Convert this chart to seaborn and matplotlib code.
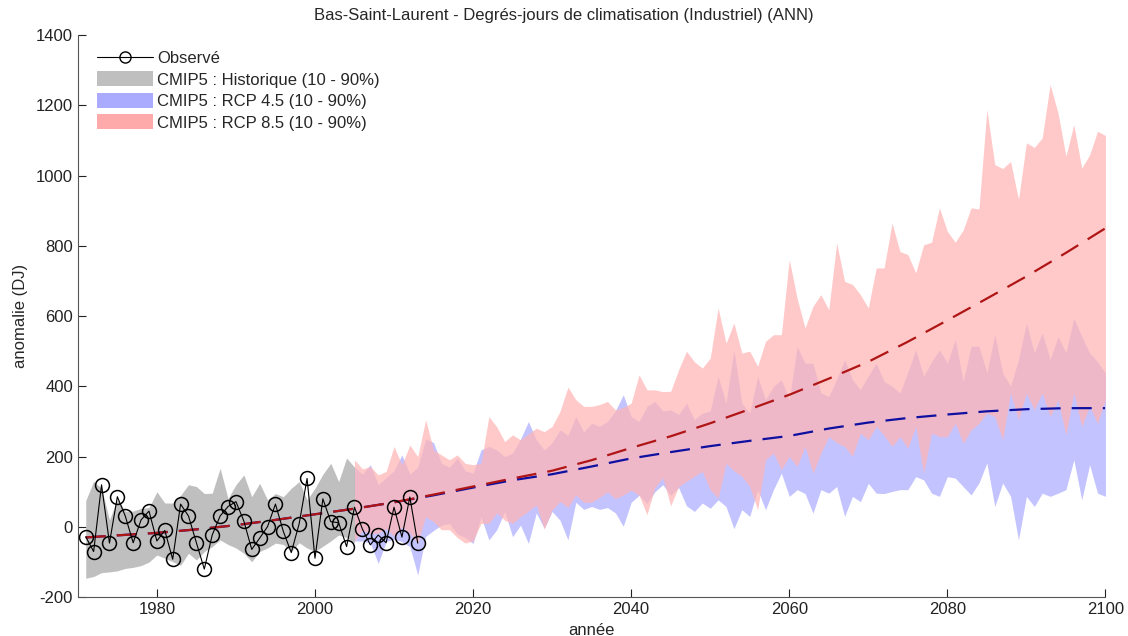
import numpy as np
import pandas as pd
import seaborn as sns
import matplotlib.pyplot as plt
from matplotlib.lines import Line2D
from matplotlib.patches import Patch

# observed anomalies 1971-2013
obs_years = list(range(1971, 2014))
obs_vals = [-28, -70, 120, -46, 86, 31, -45, 20, 45, -40,
            -10, -92, 65, 31, -45, -120, -23, 31, 58, 72,
            17, -64, -32, 1, 65, -13, -73, 9, 138, -89,
            80, 15, 12, -56, 56, -6, -51, -23, -45, 56,
            -29, 85, -46]

# CMIP5 historical 10-90% band 1971-2005
hist_years = list(range(1971, 2006))
hist_hi = [75, 130, 110, 20, 80, 45, 45, 53, 55, 100,
           68, 68, 90, 120, 115, 95, 96, 167, 81, 120,
           148, 86, 124, 77, 95, 86, 110, 129, 77, 110,
           150, 181, 129, 196, 170]
hist_lo = [-146, -141, -130, -128, -125, -118, -115, -110, -100, -80,
           -89, -99, -109, -75, -94, -70, -56, -37, -50, -60,
           -75, -99, -70, -60, -46, -50, -70, -45, -60, -70,
           -55, -40, -23, -30, -45]

# RCP bands 2005-2100
rcp_years = list(range(2005, 2101))
r85_hi = [191, 165, 172, 148, 158, 229, 177, 233, 200, 305,
          219, 205, 191, 205, 181, 177, 181, 314, 285, 243,
          262, 248, 265, 281, 271, 286, 329, 398, 362, 343,
          343, 348, 357, 333, 340, 352, 433, 390, 390, 385,
          386, 447, 500, 470, 452, 480, 623, 523, 580, 495,
          500, 457, 528, 547, 547, 761, 650, 566, 628, 661,
          618, 808, 699, 690, 661, 623, 737, 737, 865, 784,
          775, 723, 803, 810, 908, 841, 810, 845, 908, 905,
          1188, 1031, 1020, 1040, 932, 1093, 1080, 1107, 1259, 1178,
          1055, 1145, 1021, 1059, 1126, 1114]
r85_lo = [-40, -10, -18, -18, -5, -27, 0, -18, -46, 29,
          15, -8, -8, -30, -46, -40, 10, 10, 40, 19,
          10, 29, 45, 63, -6, 48, 72, 55, 91, 70,
          70, 84, 100, 80, 91, 105, 90, 35, 112, 140,
          60, 115, 130, 144, 158, 106, 82, 181, 160, 144,
          115, 49, 191, 210, 163, 201, 172, 229, 153, 210,
          257, 240, 229, 201, 267, 248, 286, 260, 229, 257,
          224, 286, 153, 267, 257, 257, 295, 238, 276, 295,
          324, 314, 248, 381, 305, 381, 333, 381, 314, 362,
          262, 381, 286, 343, 295, 362]
r45_hi = [170, 150, 177, 120, 140, 160, 205, 150, 170, 250,
          240, 181, 170, 196, 160, 153, 219, 229, 219, 200,
          210, 250, 300, 248, 219, 240, 276, 260, 314, 270,
          295, 286, 300, 330, 376, 314, 300, 343, 357, 330,
          333, 320, 352, 305, 324, 330, 428, 352, 504, 352,
          324, 428, 362, 400, 419, 362, 513, 466, 466, 381,
          371, 420, 476, 419, 390, 430, 466, 414, 400, 381,
          440, 504, 428, 470, 504, 466, 533, 414, 514, 514,
          438, 547, 438, 400, 476, 580, 495, 552, 476, 542,
          495, 594, 542, 495, 470, 438]
r45_lo = [-40, -40, -46, -104, -42, -35, -42, -56, -137, -27,
          -10, 5, 10, -20, -30, -47, 29, -37, -8, 44,
          -28, 5, -47, 40, -4, 44, 19, -37, 70, 50,
          58, 50, 55, 40, 2, 70, 90, 67, 100, 120,
          90, 112, 60, 44, 68, 53, 77, 58, -5, 49,
          30, 106, 49, 106, 153, 87, 106, 95, 39, 106,
          96, 115, 30, 87, 72, 124, 96, 95, 101, 106,
          106, 143, 134, 96, 87, 143, 139, 115, 91, 125,
          182, 58, 125, 87, -37, 87, 58, 96, 87, 96,
          106, 191, 77, 177, 96, 87]

# ensemble-median trends
trend_years = [1971, 1975, 1980, 1985, 1990, 1995, 2000, 2005, 2010, 2015,
               2020, 2025, 2030, 2035, 2040, 2045, 2050, 2055, 2060, 2065,
               2070, 2075, 2080, 2085, 2090, 2095, 2100]
trend85 = [-30, -24, -17, -7, 5, 20, 36, 52, 70, 92,
           115, 138, 160, 190, 225, 258, 295, 335, 376, 422,
           470, 527, 588, 650, 713, 780, 850]
trend45 = [-30, -24, -17, -7, 5, 20, 36, 52, 70, 90,
           112, 133, 150, 172, 195, 213, 230, 245, 259, 280,
           297, 310, 320, 329, 335, 338, 338]

sns.set_style("ticks", {"xtick.direction": "in", "ytick.direction": "in"})
plt.rcParams['font.family'] = ['Liberation Sans', 'DejaVu Sans']
plt.rcParams['axes.unicode_minus'] = False

fig = plt.figure(figsize=(11.28, 6.36), dpi=100)
ax = fig.add_axes([0.069, 0.061, 0.911, 0.884])

gray = "#bfbfbf"
blue_fill = "#aaaaff"
red_fill = "#ffb4b4"

ax.fill_between(hist_years, hist_lo, hist_hi, color=gray, lw=0, zorder=1)
ax.fill_between(rcp_years, r45_lo, r45_hi, color=blue_fill, alpha=0.7, lw=0, zorder=1)
ax.fill_between(rcp_years, r85_lo, r85_hi, color=red_fill, alpha=0.72, lw=0, zorder=2)

sns.lineplot(x=trend_years, y=trend45, color="#0f0fa0", lw=1.6, ax=ax, zorder=3)
ax.lines[-1].set_dashes([9, 5])
sns.lineplot(x=trend_years, y=trend85, color="#b01515", lw=1.6, ax=ax, zorder=4)
ax.lines[-1].set_dashes([9, 5])

obs = pd.DataFrame({"year": obs_years, "val": obs_vals})
sns.lineplot(data=obs, x="year", y="val", color="black", lw=0.8, marker="o",
             markersize=10, markerfacecolor="none", markeredgecolor="black",
             markeredgewidth=1.1, ax=ax, zorder=5)

ax.set_xlim(1970, 2100)
ax.set_ylim(-200, 1400)
ax.set_xticks(range(1980, 2101, 20))
ax.set_yticks(range(-200, 1401, 200))
ax.tick_params(labelsize=12, length=6, width=0.8, colors="#222222")
for s in ["left", "bottom"]:
    ax.spines[s].set_color("#555555")
sns.despine(ax=ax)

ax.set_xlabel("année", fontsize=12, labelpad=4)
ax.set_ylabel("anomalie (DJ)", fontsize=12, labelpad=6)
# title is centred on the figure, not on the axes
ax.set_title("Bas-Saint-Laurent - Degrés-jours de climatisation (Industriel) (ANN)",
             fontsize=12, pad=11, x=0.473)

handles = [
    Line2D([], [], color="black", lw=0.8, marker="o", markersize=8,
           markerfacecolor="none", markeredgecolor="black"),
    Patch(facecolor=gray, edgecolor="none"),
    Patch(facecolor="#aaaaff", edgecolor="none"),
    Patch(facecolor="#ffaaaa", edgecolor="none"),
]
labels = ["Observé", "CMIP5 : Historique (10 - 90%)", "CMIP5 : RCP 4.5 (10 - 90%)",
          "CMIP5 : RCP 8.5 (10 - 90%)"]
ax.legend(handles, labels, loc="upper left", frameon=False, fontsize=12,
          handlelength=3.35, handleheight=1.0, labelspacing=0.32,
          handletextpad=0.25, bbox_to_anchor=(0.004, 1.0))

fig.savefig("out.png", dpi=100)
